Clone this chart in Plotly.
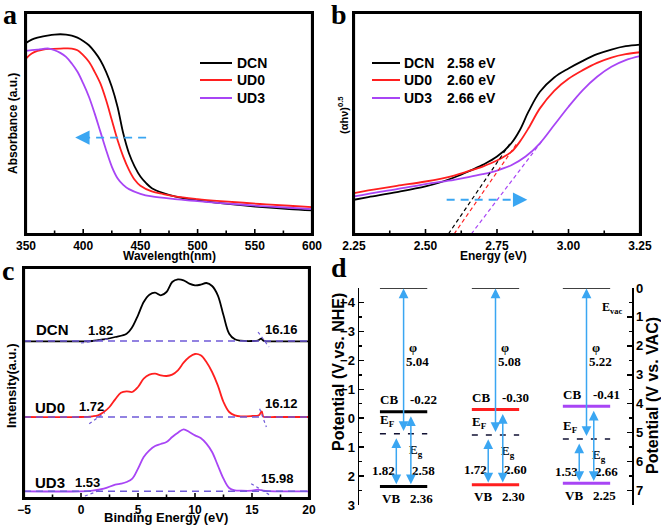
import plotly.graph_objects as go

W, H = 661, 526
def px(x): return x / W
def py(y): return 1 - y / H

BLACK = "#000000"
RED = "#ff1f1f"
PURPLE = "#a845f5"
BLUE = "#3aa6f2"
DASHC = "#6f5ad8"
SANS = "Liberation Sans"
SERIF = "Liberation Serif"

names = ["DCN", "UD0", "UD3"]
colors = [BLACK, RED, PURPLE]

# ---------------- Panel a: UV-vis absorbance ----------------
wl_range = [350, 600]
abs_range = [0, 665]
wl_ticks = [350, 400, 450, 500, 550, 600]
wl_minor = [375, 425, 475, 525, 575]
wl_dcn = [350, 355, 360, 365, 370, 375, 380, 385, 390, 395, 400, 405, 410, 415, 420, 425, 430, 435,
          440, 445, 450, 455, 460, 470, 480, 500, 520, 540, 560, 580, 600]
abs_dcn = [575, 585, 591, 595, 598, 600, 601, 600, 597, 591, 581, 568, 548, 523, 488, 443, 383, 303,
           243, 203, 173, 153, 138, 123, 113, 101, 93, 86, 80, 75, 71]
wl_ud0 = [350, 355, 360, 365, 370, 380, 390, 395, 400, 405, 410, 415, 420, 425, 430, 435, 440, 445,
          450, 460, 470, 480, 500, 520, 540, 560, 580, 600]
abs_ud0 = [528, 543, 551, 555, 557, 558, 558, 553, 538, 518, 488, 453, 403, 343, 283, 233, 193, 163,
           145, 128, 120, 113, 105, 99, 94, 89, 85, 81]
wl_ud3 = [350, 355, 360, 365, 370, 375, 380, 385, 390, 395, 400, 405, 410, 415, 420, 425, 430, 435,
          440, 450, 460, 480, 500, 520, 540, 560, 580, 600]
abs_ud3 = [551, 553, 555, 557, 558, 553, 545, 533, 513, 488, 453, 413, 363, 308, 253, 203, 168, 148,
           135, 121, 113, 105, 99, 93, 88, 83, 79, 75]
arrow_a = {"x_from": 455, "x_to": 393, "y": 290}

# ---------------- Panel b: Tauc plot ----------------
en_range = [2.25, 3.25]
tauc_range = [0, 665]
en_ticks = [2.25, 2.50, 2.75, 3.00, 3.25]
en_minor = [2.375, 2.625, 2.875, 3.125]
e_dcn = [2.25, 2.30, 2.40, 2.50, 2.55, 2.60, 2.65, 2.70, 2.75, 2.80, 2.83, 2.86, 2.90, 2.95, 3.00,
         3.05, 3.10, 3.15, 3.20, 3.25]
t_dcn = [103, 111, 126, 143, 155, 170, 188, 208, 233, 273, 313, 368, 428, 471, 498, 521, 541, 555, 565, 570]
e_ud0 = [2.25, 2.30, 2.40, 2.50, 2.60, 2.65, 2.70, 2.75, 2.80, 2.83, 2.86, 2.90, 2.95, 3.00, 3.05,
         3.10, 3.15, 3.20, 3.25]
t_ud0 = [123, 131, 145, 158, 176, 189, 203, 221, 247, 278, 318, 378, 431, 467, 493, 515, 531, 541, 547]
e_ud3 = [2.25, 2.30, 2.40, 2.50, 2.60, 2.65, 2.70, 2.75, 2.80, 2.85, 2.90, 2.95, 3.00, 3.05, 3.10,
         3.15, 3.20, 3.25]
t_ud3 = [113, 121, 135, 150, 163, 171, 180, 191, 207, 233, 273, 328, 383, 433, 473, 503, 523, 535]
band_gap = [2.58, 2.60, 2.66]
tangent_end_x = [2.80, 2.82, 2.91]
tangent_end_y = [278, 273, 283]
arrow_b = {"x_from": 2.574, "x_to": 2.856, "y": 103}

# ---------------- Panel c: UPS ----------------
be_range = [-5, 20]
int_range = [0, 690]
be_ticks = [-5, 0, 5, 10, 15, 20]
be_minor = [-2.5, 2.5, 7.5, 12.5, 17.5]
be_dcn = [-5, -2, 0, 1, 2, 3, 4, 4.5, 5, 5.5, 6, 6.5, 7, 7.5, 8, 8.5, 9, 9.5, 10, 10.5, 11, 11.5, 12,
          12.5, 13, 13.5, 14, 15, 15.5, 15.8, 16, 16.3, 17, 20]
i_dcn = [470, 470, 470, 471, 476, 483, 493, 513, 548, 588, 610, 616, 608, 618, 648, 656, 653, 643, 638,
         640, 645, 636, 608, 548, 493, 476, 472, 471, 472, 478, 472, 470, 470, 470]
be_ud0 = [-5, 0, 1, 1.5, 2, 2.5, 3, 3.5, 4, 4.5, 5, 5.5, 6, 6.5, 7, 7.5, 8, 8.5, 9, 9.5, 10, 10.5, 11,
          11.5, 12, 12.5, 13, 13.5, 14, 15, 15.6, 15.85, 16, 16.3, 17, 20]
i_ud0 = [243, 243, 245, 248, 258, 273, 296, 316, 320, 318, 333, 358, 370, 373, 368, 366, 370, 383, 406,
         423, 432, 428, 408, 378, 338, 288, 258, 248, 245, 246, 248, 260, 244, 243, 243, 243]
be_ud3 = [-5, 0, 1, 2, 3, 3.5, 4, 4.5, 5, 5.5, 6, 6.5, 7, 7.5, 8, 8.5, 9, 9.5, 10, 10.5, 11, 11.5, 12,
          12.5, 13, 13.5, 14, 15, 15.5, 16, 17, 20]
i_ud3 = [20, 20, 22, 28, 40, 43, 48, 58, 88, 123, 143, 156, 162, 168, 183, 196, 206, 198, 188, 180, 163,
         138, 98, 58, 30, 23, 22, 22, 25, 22, 20, 20]
ups_baseline = [471, 243, 20]
onset_low = [1.82, 1.72, 1.53]
cutoff_high = [16.16, 16.12, 15.98]
onset_tan_x = [[0.0, 2.5], [0.72, 2.09], [0.34, 1.66]]
onset_tan_y = [[465, 478], [223, 256], [6, 23]]
cutoff_tan_x = [[15.53, 16.49], [15.67, 16.26], [14.93, 16.7]]
cutoff_tan_y = [[498, 453], [268, 213], [43, 6]]
ups_name_pos = [(-2.5, 507), (-2.7, 272), (-2.7, 48)]
ups_low_pos = [(1.67, 503), (0.96, 275), (0.6, 48)]
ups_high_pos = [(17.6, 507), (17.6, 285), (17.2, 60)]

# ---------------- Panel d: band diagram ----------------
cb = [-0.22, -0.30, -0.41]
vb = [2.36, 2.30, 2.25]
phi = [5.04, 5.08, 5.22]
eg = [2.58, 2.60, 2.66]
ef_vb = [1.82, 1.72, 1.53]
vac_offset = 4.5
centers = [0.49, 1.5, 2.5]
half_w = 0.26

# panel boxes in pixels (left, right, top, bottom)
box_a = (26, 312, 13, 234)
box_b = (354, 640, 13, 234)
box_c = (24, 309, 268, 498)
box_d = (359, 632, 288, 505)

traces = []
for xs, ys, c in [(wl_dcn, abs_dcn, BLACK), (wl_ud0, abs_ud0, RED), (wl_ud3, abs_ud3, PURPLE)]:
    traces.append(go.Scatter(x=xs, y=ys, mode="lines", line=dict(color=c, width=1.8, shape="spline"),
                             xaxis="x", yaxis="y", showlegend=False, hoverinfo="skip"))
traces.append(go.Scatter(x=[arrow_a["x_from"], arrow_a["x_to"] + 3], y=[arrow_a["y"]] * 2, mode="lines",
                         line=dict(color=BLUE, width=1.8, dash="8px,6px"), xaxis="x", yaxis="y",
                         showlegend=False, hoverinfo="skip"))

for xs, ys, c in [(e_dcn, t_dcn, BLACK), (e_ud0, t_ud0, RED), (e_ud3, t_ud3, PURPLE)]:
    traces.append(go.Scatter(x=xs, y=ys, mode="lines", line=dict(color=c, width=1.8, shape="spline"),
                             xaxis="x2", yaxis="y2", showlegend=False, hoverinfo="skip"))
for i in range(3):
    traces.append(go.Scatter(x=[band_gap[i], tangent_end_x[i]], y=[0, tangent_end_y[i]], mode="lines",
                             line=dict(color=colors[i], width=1.2, dash="4px,3px"), xaxis="x2", yaxis="y2",
                             showlegend=False, hoverinfo="skip"))
traces.append(go.Scatter(x=[arrow_b["x_from"], arrow_b["x_to"] - 0.01], y=[arrow_b["y"]] * 2, mode="lines",
                         line=dict(color=BLUE, width=1.8, dash="8px,6px"), xaxis="x2", yaxis="y2",
                         showlegend=False, hoverinfo="skip"))

for xs, ys, c in [(be_dcn, i_dcn, BLACK), (be_ud0, i_ud0, RED), (be_ud3, i_ud3, PURPLE)]:
    traces.append(go.Scatter(x=xs, y=ys, mode="lines", line=dict(color=c, width=1.8, shape="spline"),
                             xaxis="x3", yaxis="y3", showlegend=False, hoverinfo="skip"))
for i in range(3):
    traces.append(go.Scatter(x=be_range, y=[ups_baseline[i]] * 2, mode="lines",
                             line=dict(color=DASHC, width=1.5, dash="7px,5px"), xaxis="x3", yaxis="y3",
                             showlegend=False, hoverinfo="skip"))
    for tx, ty in [(onset_tan_x[i], onset_tan_y[i]), (cutoff_tan_x[i], cutoff_tan_y[i])]:
        traces.append(go.Scatter(x=tx, y=ty, mode="lines", line=dict(color=DASHC, width=1.2, dash="dot"),
                                 xaxis="x3", yaxis="y3", showlegend=False, hoverinfo="skip"))

for i in range(3):
    c = centers[i]
    ef = phi[i] - vac_offset
    traces.append(go.Scatter(x=[c - half_w, c + half_w], y=[-vac_offset] * 2, mode="lines",
                             line=dict(color=BLACK, width=1.6), xaxis="x4", yaxis="y4",
                             showlegend=False, hoverinfo="skip"))
    traces.append(go.Scatter(x=[c - half_w, c + half_w], y=[cb[i]] * 2, mode="lines",
                             line=dict(color=colors[i], width=3), xaxis="x4", yaxis="y4",
                             showlegend=False, hoverinfo="skip"))
    traces.append(go.Scatter(x=[c - half_w, c + half_w], y=[vb[i]] * 2, mode="lines",
                             line=dict(color=colors[i], width=3), xaxis="x4", yaxis="y4",
                             showlegend=False, hoverinfo="skip"))
    traces.append(go.Scatter(x=[c - half_w, c + half_w], y=[ef] * 2, mode="lines",
                             line=dict(color="#111133", width=1.5, dash="6px,8px"), xaxis="x4", yaxis="y4",
                             showlegend=False, hoverinfo="skip"))
# invisible trace to activate right axis
traces.append(go.Scatter(x=[0], y=[0], mode="markers", marker=dict(opacity=0), xaxis="x4", yaxis="y5",
                         showlegend=False, hoverinfo="skip"))

fig = go.Figure(traces)

ann = []
shapes = []

def text(x, y, s, size=12, family=SANS, xref="paper", yref="paper", xanchor="center", yanchor="middle",
         angle=0, bold=True, color=BLACK):
    ann.append(dict(x=x, y=y, xref=xref, yref=yref, text=s, showarrow=False, xanchor=xanchor,
                    yanchor=yanchor, textangle=angle, borderpad=0,
                    font=dict(family=family, size=size, color=color, weight="bold" if bold else "normal")))

# frames and inward ticks, each edge as its own paper-referenced line
for box, rng, major, minor in [(box_a, wl_range, wl_ticks, wl_minor), (box_b, en_range, en_ticks, en_minor),
                               (box_c, be_range, be_ticks, be_minor)]:
    l, r, t_, b = box
    for (x0, y0, x1, y1) in [(l, t_, r, t_), (l, b, r, b), (l, t_, l, b), (r, t_, r, b)]:
        shapes.append(dict(type="line", xref="paper", yref="paper", x0=px(x0), x1=px(x1), y0=py(y0),
                           y1=py(y1), line=dict(color=BLACK, width=2.2), layer="above"))
    for vals, ln in [(major, 5), (minor, 3.5)]:
        for v in vals:
            xx = l + (v - rng[0]) / (rng[1] - rng[0]) * (r - l)
            shapes.append(dict(type="line", xref="paper", yref="paper", x0=px(xx), x1=px(xx), y0=py(b),
                               y1=py(b - ln), line=dict(color=BLACK, width=1.6), layer="above"))

# panel letters
for s, x, y in [("a", 10, 15), ("b", 339, 14), ("c", 8, 270), ("d", 339, 267)]:
    text(px(x), py(y), s, size=28, family=SERIF)

# axis titles
text(px(169), py(256), "Wavelength(nm)", size=12)
text(px(13), py(124), "Absorbance (a.u.)", size=12, angle=-90)
text(px(493), py(256), "Energy (eV)", size=12)
text(px(343), py(115), "(αhν)<sup>0.5</sup>", size=11, angle=-90)
text(px(166), py(517), "Binding Energy (eV)", size=13)
text(px(12), py(386), "Intensity(a.u.)", size=13, angle=-90)
text(px(338), py(372), "Potential (V vs. NHE)", size=16, angle=-90)
text(px(652), py(396), "Potential (V vs. VAC)", size=16, angle=-90)

# legends a and b
leg_y = [63, 80, 98]
gap_lbl = ["2.58 eV", "2.60 eV", "2.66 eV"]
for i in range(3):
    shapes.append(dict(type="line", xref="paper", yref="paper", x0=px(200), x1=px(232), y0=py(leg_y[i]),
                       y1=py(leg_y[i]), line=dict(color=colors[i], width=2)))
    text(px(236), py(leg_y[i]), names[i], size=14, xanchor="left")
    shapes.append(dict(type="line", xref="paper", yref="paper", x0=px(372), x1=px(400), y0=py(leg_y[i]),
                       y1=py(leg_y[i]), line=dict(color=colors[i], width=2)))
    text(px(403), py(leg_y[i]), names[i], size=14, xanchor="left")
    text(px(446), py(leg_y[i]), gap_lbl[i], size=14, xanchor="left")

# arrowheads a and b
ann.append(dict(x=arrow_a["x_to"], y=arrow_a["y"], xref="x", yref="y", ax=arrow_a["x_to"] + 10,
                ay=arrow_a["y"], axref="x", ayref="y", text="", showarrow=True, arrowhead=2,
                arrowsize=1.6, arrowwidth=1.8, arrowcolor=BLUE))
ann.append(dict(x=arrow_b["x_to"], y=arrow_b["y"], xref="x2", yref="y2", ax=arrow_b["x_to"] - 0.04,
                ay=arrow_b["y"], axref="x2", ayref="y2", text="", showarrow=True, arrowhead=2,
                arrowsize=1.6, arrowwidth=1.8, arrowcolor=BLUE))

# panel c labels
for i in range(3):
    text(ups_name_pos[i][0], ups_name_pos[i][1], names[i], size=15, xref="x3", yref="y3")
    text(ups_low_pos[i][0], ups_low_pos[i][1], f"{onset_low[i]:.2f}", size=13, xref="x3", yref="y3")
    text(ups_high_pos[i][0], ups_high_pos[i][1], f"{cutoff_high[i]:.2f}", size=13, xref="x3", yref="y3")

# panel d labels and arrows
def arrow(x, y0, y1):
    ann.append(dict(x=x, y=y1, xref="x4", yref="y4", ax=x, ay=y0, axref="x4", ayref="y4", text="",
                    showarrow=True, arrowhead=2, startarrowhead=2, arrowside="end+start", arrowsize=1.3,
                    arrowwidth=1.5, arrowcolor=BLUE, standoff=0, startstandoff=0))

for i in range(3):
    c = centers[i]
    ef = phi[i] - vac_offset
    def t(dx, y, s, size=13, ya="middle", xa="center"):
        text(c + dx, y, s, size=size, family=SERIF, xref="x4", yref="y4", yanchor=ya, xanchor=xa)
    t(0, -vac_offset - 0.12, names[i], size=15, ya="bottom")
    t(-0.16, cb[i] - 0.12, "CB", ya="bottom")
    t(0.22, cb[i] - 0.12, f"{cb[i]:.2f}", ya="bottom")
    t(-0.18, ef - 0.12, "E<sub>F</sub>", ya="bottom")
    t(0.14, ef + 0.25, "E<sub>g</sub>", ya="top")
    t(-0.22, (ef + vb[i]) / 2 + 0.35, f"{ef_vb[i]:.2f}")
    t(0.22, (ef + vb[i]) / 2 + 0.35, f"{eg[i]:.2f}")
    t(-0.14, vb[i] + 0.12, "VB", ya="top")
    t(0.2, vb[i] + 0.12, f"{vb[i]:.2f}", ya="top")
    t(0.1, -2.45, "φ")
    t(0.15, -1.95, f"{phi[i]:.2f}")
    arrow(c, ef - 0.05, -vac_offset + 0.02)
    arrow(c - 0.08, ef + 0.1, vb[i] - 0.08)
    arrow(c + 0.08, cb[i] + 0.1, vb[i] - 0.08)
text(2.78, -3.8, "E<sub>vac</sub>", size=12, family=SERIF, xref="x4", yref="y4")

tickfont = dict(family=SANS, size=12, color=BLACK, weight="bold")
frame = dict(showline=True, mirror=True, linecolor=BLACK, linewidth=2, showgrid=False, zeroline=False,
             automargin=False)
xax = dict(ticks="", tickfont=tickfont, **frame)
noy = dict(showticklabels=False, ticks="", **frame)
dax = dict(dtick=1, ticks="inside", ticklen=5, tickwidth=1.5, tickcolor=BLACK,
           minor=dict(dtick=0.5, ticks="inside", ticklen=3, tickcolor=BLACK), showline=True,
           linecolor=BLACK, linewidth=1.5, showgrid=False, zeroline=False, automargin=False,
           tickfont=dict(family=SANS, size=13, color=BLACK, weight="bold"))

def xdom(box): return [px(box[0]), px(box[1])]
def ydom(box): return [py(box[3]), py(box[2])]

fig.update_layout(
    template="none",
    width=W, height=H, autosize=False, margin=dict(l=0, r=0, t=0, b=0, pad=0),
    paper_bgcolor="white", plot_bgcolor="rgba(0,0,0,0)", showlegend=False,
    xaxis=dict(domain=xdom(box_a), anchor="y", range=wl_range, tickvals=wl_ticks, **xax),
    yaxis=dict(domain=ydom(box_a), anchor="x", range=abs_range, **noy),
    xaxis2=dict(domain=xdom(box_b), anchor="y2", range=en_range, tickvals=en_ticks, tickformat=".2f", **xax),
    yaxis2=dict(domain=ydom(box_b), anchor="x2", range=tauc_range, **noy),
    xaxis3=dict(domain=xdom(box_c), anchor="y3", range=be_range, tickvals=be_ticks, **xax),
    yaxis3=dict(domain=ydom(box_c), anchor="x3", range=int_range, **noy),
    xaxis4=dict(domain=xdom(box_d), anchor="y4", range=[0, 3], visible=False),
    yaxis4=dict(domain=ydom(box_d), anchor="x4", range=[3, -4.5], **dax),
    yaxis5=dict(overlaying="y4", side="right", anchor="x4", range=[7.5, 0], **dax),
    annotations=ann, shapes=shapes,
)

fig.write_html("out.html", config={"displayModeBar": False, "staticPlot": True},
               post_script="document.body.style.margin='0px';")
